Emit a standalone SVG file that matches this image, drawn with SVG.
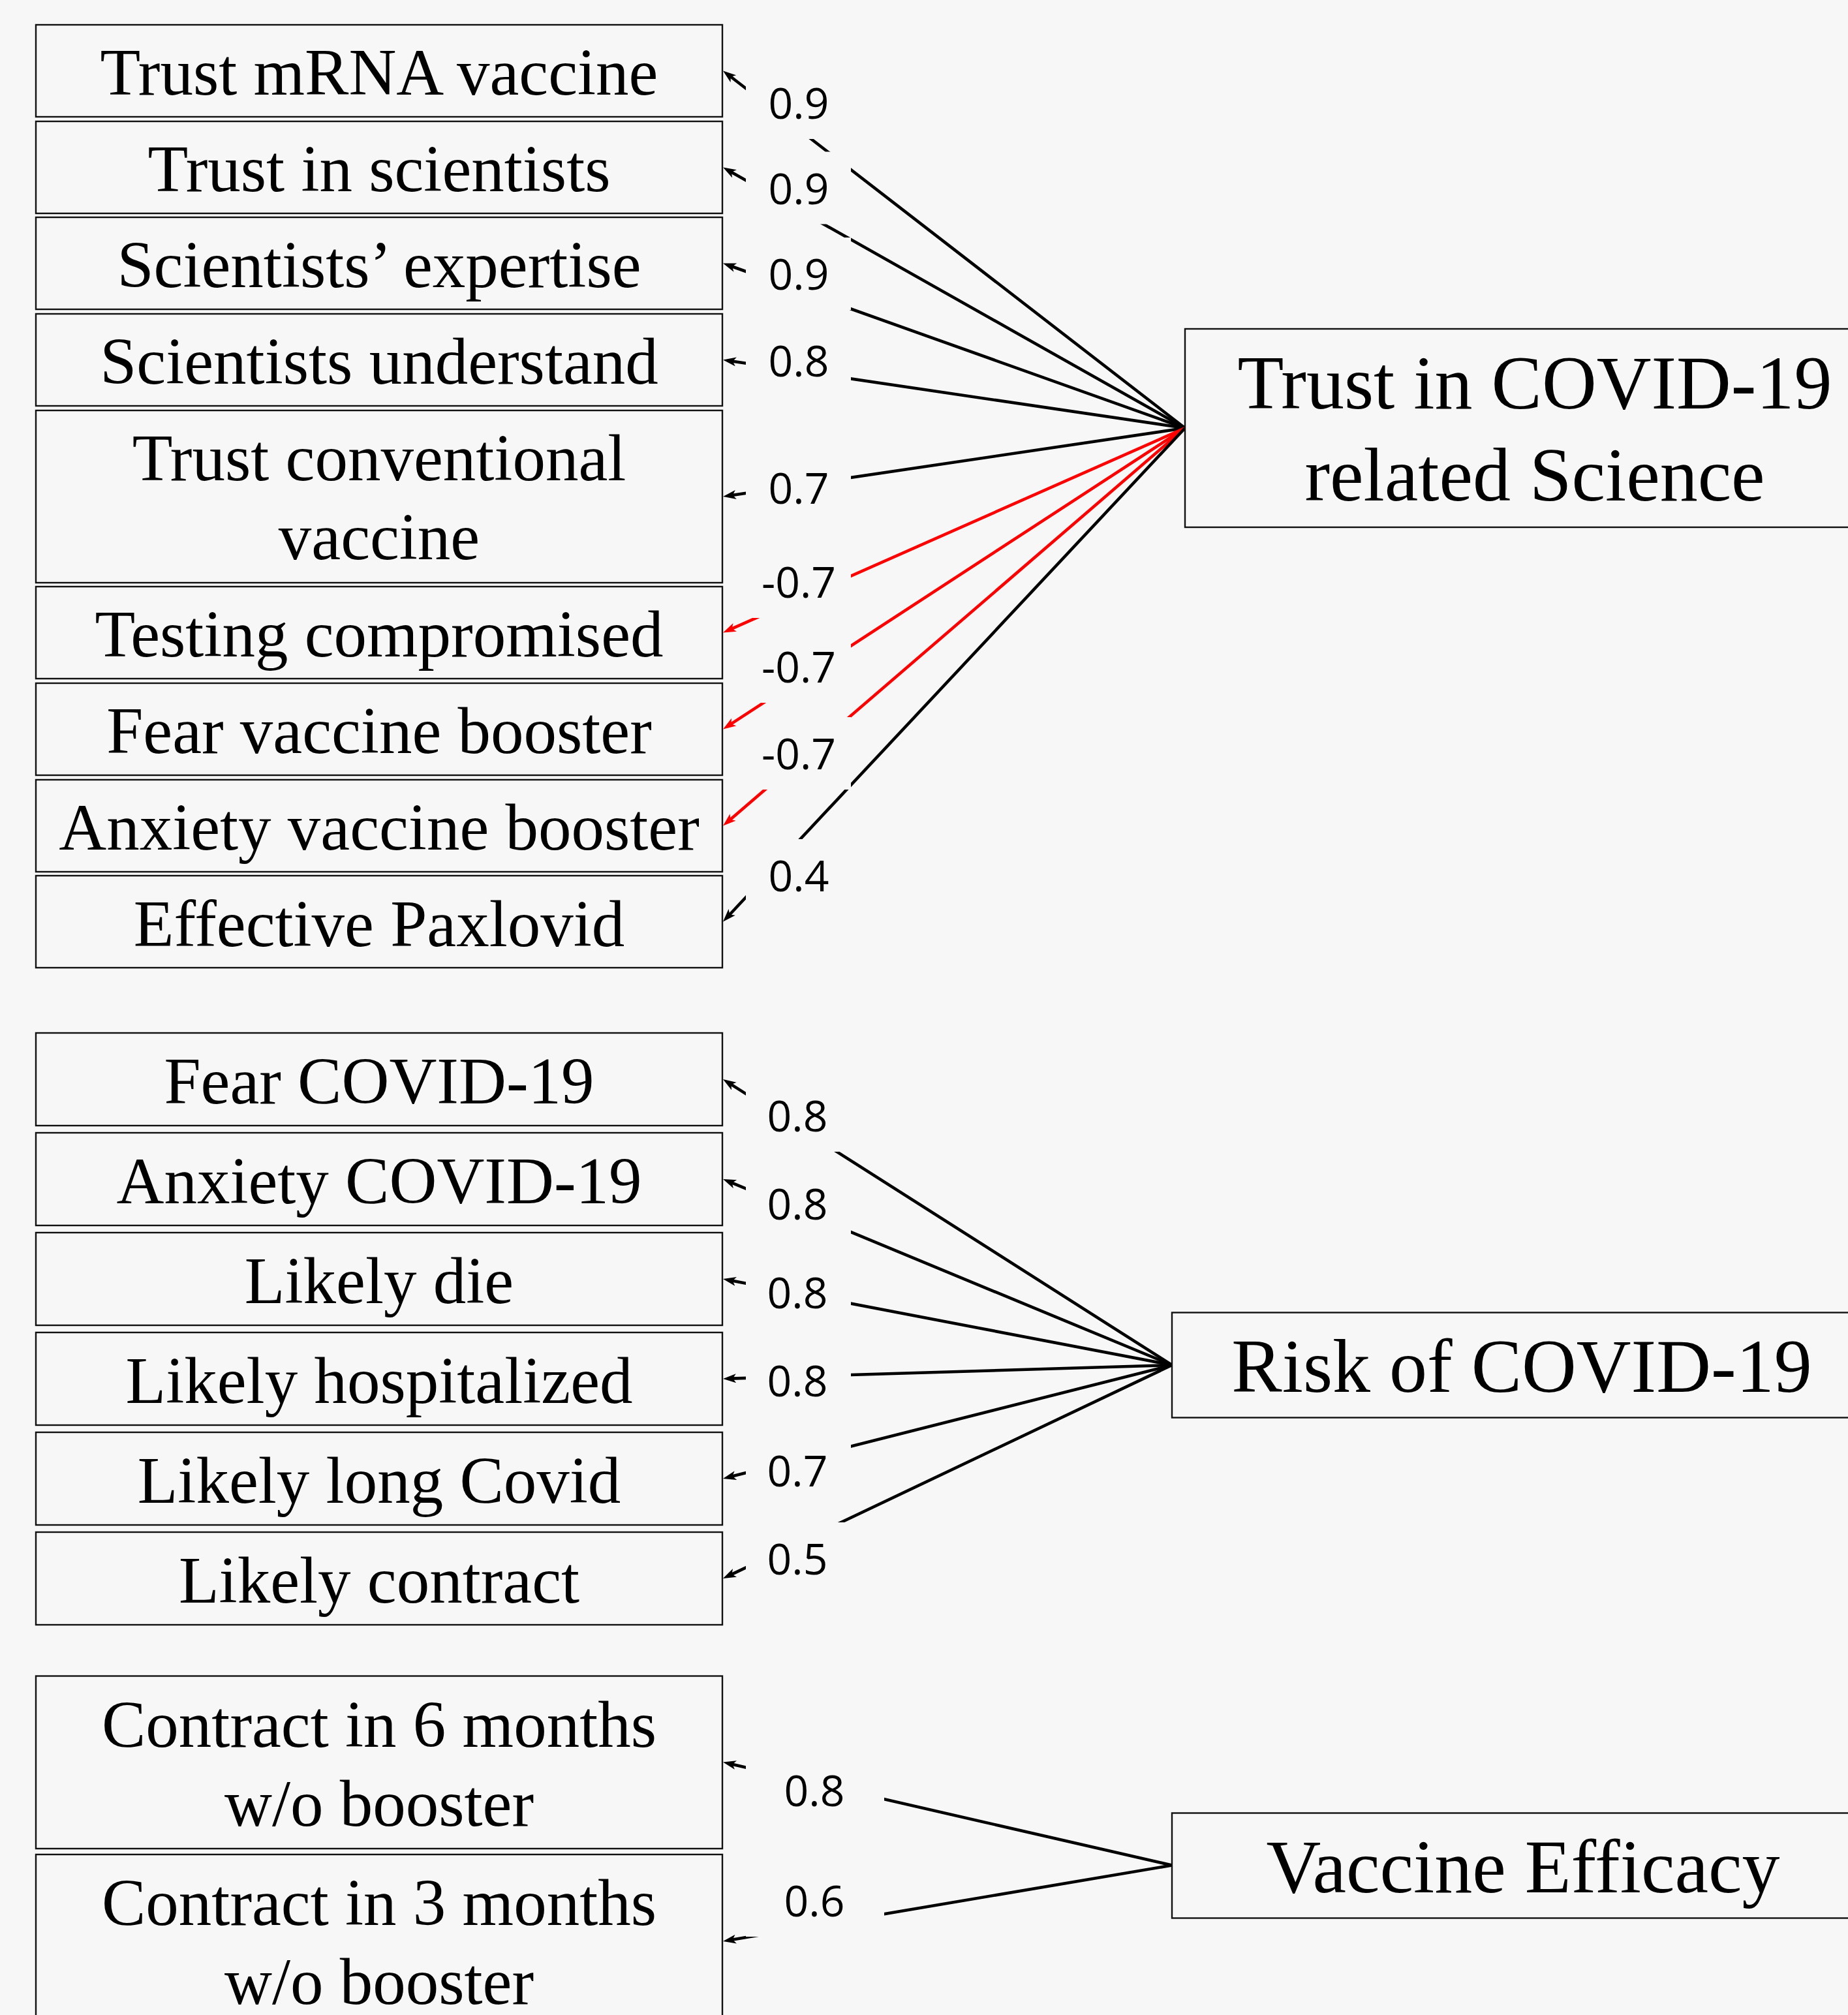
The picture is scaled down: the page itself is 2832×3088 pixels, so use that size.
<svg xmlns="http://www.w3.org/2000/svg" width="2832" height="3088" viewBox="0 0 2832 3088">
<defs>
<style>
.bg{fill:#f7f7f7}
.box{fill:#f7f7f7;stroke:#111;stroke-width:2.4}
.t{font-family:"Liberation Serif","Times New Roman",serif;font-size:101px;fill:#000;text-anchor:middle}
.tl{font-family:"Liberation Serif","Times New Roman",serif;font-size:116px;fill:#000;text-anchor:middle}
.e{fill:none;stroke:#000;stroke-width:4.6;marker-end:url(#ab)}
.r{fill:none;stroke:#ff0000;stroke-width:4.6;marker-end:url(#ar)}
.lb{fill:#f7f7f7;stroke:none}
.lt{font-family:"Open Sans","Noto Sans",sans-serif;font-size:66px;fill:#000;text-anchor:middle}
</style>
<marker id="ab" markerUnits="userSpaceOnUse" markerWidth="22" markerHeight="16" refX="8" refY="7" orient="auto"><path d="M0,0 L20,7 L0,14 L5,7 z" fill="#000"/></marker>
<marker id="ar" markerUnits="userSpaceOnUse" markerWidth="22" markerHeight="16" refX="8" refY="7" orient="auto"><path d="M0,0 L20,7 L0,14 L5,7 z" fill="#ff0000"/></marker>
</defs>
<rect class="bg" x="0" y="0" width="2832" height="3088"/>

<g id="connectors">
<line class="e" x1="1816" y1="656" x2="1117.5" y2="115.8"/>
<line class="e" x1="1816" y1="656" x2="1118.5" y2="262.4"/>
<line class="e" x1="1816" y1="656" x2="1119.3" y2="407.5"/>
<line class="e" x1="1816" y1="656" x2="1119.9" y2="553.3"/>
<line class="e" x1="1816" y1="656" x2="1119.9" y2="759.2"/>
<line class="r" x1="1816" y1="656" x2="1119.0" y2="964.6"/>
<line class="r" x1="1816" y1="656" x2="1118.1" y2="1110.9"/>
<line class="r" x1="1816" y1="656" x2="1117.1" y2="1257.7"/>
<line class="e" x1="1816" y1="656" x2="1116.2" y2="1403.7"/>
<line class="e" x1="1796" y1="2092" x2="1118.1" y2="1660.4"/>
<line class="e" x1="1796" y1="2092" x2="1119.1" y2="1811.6"/>
<line class="e" x1="1796" y1="2092" x2="1119.8" y2="1962.3"/>
<line class="e" x1="1796" y1="2092" x2="1120.0" y2="2112.6"/>
<line class="e" x1="1796" y1="2092" x2="1119.6" y2="2263.1"/>
<line class="e" x1="1796" y1="2092" x2="1118.8" y2="2413.8"/>
<line class="e" x1="1796" y1="2858.5" x2="1119.7" y2="2703.2"/>
<line class="e" x1="1796" y1="2858.5" x2="1119.8" y2="2973.0"/>
</g>

<g id="edge-labels">
<rect class="lb" x="1143" y="102" width="161" height="111"/><text class="lt" x="1224" y="182">0.9</text>
<rect class="lb" x="1143" y="232.5" width="161" height="111"/><text class="lt" x="1224" y="312.5">0.9</text>
<rect class="lb" x="1143" y="364" width="161" height="111"/><text class="lt" x="1224" y="444">0.9</text>
<rect class="lb" x="1143" y="497" width="161" height="111"/><text class="lt" x="1224" y="577">0.8</text>
<rect class="lb" x="1143" y="692" width="161" height="111"/><text class="lt" x="1224" y="772">0.7</text>
<rect class="lb" x="1143" y="836" width="161" height="111"/><text class="lt" x="1224" y="916">-0.7</text>
<rect class="lb" x="1143" y="966" width="161" height="111"/><text class="lt" x="1224" y="1046">-0.7</text>
<rect class="lb" x="1143" y="1099" width="161" height="111"/><text class="lt" x="1224" y="1179">-0.7</text>
<rect class="lb" x="1143" y="1286" width="161" height="111"/><text class="lt" x="1224" y="1366">0.4</text>
<rect class="lb" x="1143" y="1654" width="161" height="111"/><text class="lt" x="1222" y="1734">0.8</text>
<rect class="lb" x="1143" y="1789" width="161" height="111"/><text class="lt" x="1222" y="1869">0.8</text>
<rect class="lb" x="1143" y="1925" width="161" height="111"/><text class="lt" x="1222" y="2005">0.8</text>
<rect class="lb" x="1143" y="2060" width="161" height="111"/><text class="lt" x="1222" y="2140">0.8</text>
<rect class="lb" x="1143" y="2198" width="161" height="111"/><text class="lt" x="1222" y="2278">0.7</text>
<rect class="lb" x="1143" y="2333" width="161" height="111"/><text class="lt" x="1222" y="2413">0.5</text>
<rect class="lb" x="1143" y="2688" width="212" height="111"/><text class="lt" x="1248" y="2768">0.8</text>
<rect class="lb" x="1143" y="2857" width="212" height="111"/><text class="lt" x="1248" y="2937">0.6</text>
</g>

<g id="n-trust-mrna"><rect class="box" x="55" y="38" width="1052" height="141"/><text class="t" x="581" y="145">Trust mRNA vaccine</text></g>
<g id="n-trust-scientists"><rect class="box" x="55" y="186" width="1052" height="141"/><text class="t" x="581" y="293">Trust in scientists</text></g>
<g id="n-sci-expertise"><rect class="box" x="55" y="333" width="1052" height="141"/><text class="t" x="581" y="440">Scientists’ expertise</text></g>
<g id="n-sci-understand"><rect class="box" x="55" y="481" width="1052" height="141"/><text class="t" x="581" y="588">Scientists understand</text></g>
<g id="n-trust-conv"><rect class="box" x="55" y="629" width="1052" height="264"/><text class="t" x="581" y="736">Trust conventional</text><text class="t" x="581" y="857">vaccine</text></g>
<g id="n-testing"><rect class="box" x="55" y="899" width="1052" height="141"/><text class="t" x="581" y="1006">Testing compromised</text></g>
<g id="n-fear-booster"><rect class="box" x="55" y="1047" width="1052" height="141"/><text class="t" x="581" y="1154">Fear vaccine booster</text></g>
<g id="n-anx-booster"><rect class="box" x="55" y="1195" width="1052" height="141"/><text class="t" x="581" y="1302">Anxiety vaccine booster</text></g>
<g id="n-paxlovid"><rect class="box" x="55" y="1342" width="1052" height="141"/><text class="t" x="581" y="1450">Effective Paxlovid</text></g>

<g id="n-fear-covid"><rect class="box" x="55" y="1583" width="1052" height="142"/><text class="t" x="581" y="1691">Fear COVID-19</text></g>
<g id="n-anx-covid"><rect class="box" x="55" y="1736" width="1052" height="142"/><text class="t" x="581" y="1844">Anxiety COVID-19</text></g>
<g id="n-likely-die"><rect class="box" x="55" y="1889" width="1052" height="142"/><text class="t" x="581" y="1997">Likely die</text></g>
<g id="n-likely-hosp"><rect class="box" x="55" y="2042" width="1052" height="142"/><text class="t" x="581" y="2150">Likely hospitalized</text></g>
<g id="n-likely-long"><rect class="box" x="55" y="2195" width="1052" height="142"/><text class="t" x="581" y="2303">Likely long Covid</text></g>
<g id="n-likely-contract"><rect class="box" x="55" y="2348" width="1052" height="142"/><text class="t" x="581" y="2456">Likely contract</text></g>

<g id="n-contract-6"><rect class="box" x="55" y="2568.5" width="1052" height="264.5"/><text class="t" x="581" y="2677">Contract in 6 months</text><text class="t" x="581" y="2798">w/o booster</text></g>
<g id="n-contract-3"><rect class="box" x="55" y="2842" width="1052" height="264"/><text class="t" x="581" y="2950">Contract in 3 months</text><text class="t" x="581" y="3071">w/o booster</text></g>

<g id="n-trust-science"><rect class="box" x="1816" y="504" width="1100" height="304"/><text class="tl" x="2352" y="626">Trust in COVID-19</text><text class="tl" x="2352" y="767">related Science</text></g>
<g id="n-risk"><rect class="box" x="1796" y="2011.5" width="1120" height="161"/><text class="tl" x="2332" y="2133">Risk of COVID-19</text></g>
<g id="n-efficacy"><rect class="box" x="1796" y="2778.5" width="1120" height="161"/><text class="tl" x="2334" y="2900">Vaccine Efficacy</text></g>
</svg>
